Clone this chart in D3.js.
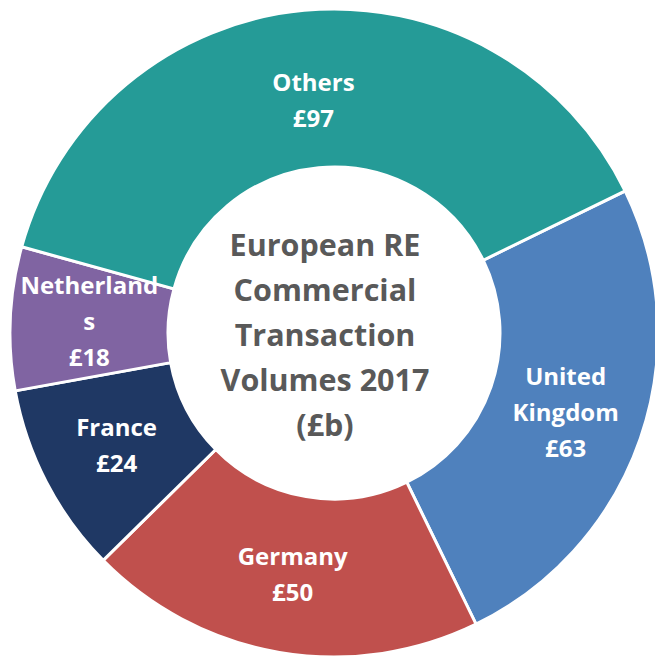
<!DOCTYPE html>
<html>
<head>
<meta charset="utf-8">
<script src="https://cdn.jsdelivr.net/npm/d3@7"></script>
<style>
  html, body { margin: 0; padding: 0; background: #fff; }
  svg { display: block; }
</style>
</head>
<body>
<svg id="chart" width="655" height="656"></svg>
<script>
// data
const categories = ["United Kingdom", "Germany", "France", "Netherlands", "Others"];
const volumes = [63, 50, 24, 18, 97];
const labelLines = [["United", "Kingdom"], ["Germany"], ["France"], ["Netherland", "s"], ["Others"]];
const colors = ["#4F81BD", "#C0504D", "#1F3864", "#8064A2", "#259B97"];
const titleLines = ["European RE", "Commercial", "Transaction", "Volumes 2017", "(£b)"];

const width = 655, height = 656;
const cx = 334, cy = 333;
const outerR = 324, innerR = 166;
const startDeg = 64;
const fontFam = "'Open Sans', Lato, sans-serif";

const svg = d3.select("#chart");
const g = svg.append("g").attr("transform", `translate(${cx},${cy})`);

const pie = d3.pie().sort(null).value(d => d.v)
  .startAngle(startDeg * Math.PI / 180)
  .endAngle((startDeg + 360) * Math.PI / 180);

const data = categories.map((c, i) => ({ c, v: volumes[i], lines: labelLines[i], color: colors[i] }));
const arcs = pie(data);

const arc = d3.arc().innerRadius(innerR).outerRadius(outerR);
const labelArc = d3.arc().innerRadius((innerR + outerR) / 2).outerRadius((innerR + outerR) / 2);

g.selectAll("path.slice")
  .data(arcs)
  .join("path")
  .attr("class", "slice")
  .attr("d", arc)
  .attr("fill", d => d.data.color)
  .attr("stroke", "#fff")
  .attr("stroke-width", 3);

// excel nudges the big slice label a bit down
const nudge = { "Others": [2, 12] };

const lineH = 36;
g.selectAll("text.lbl")
  .data(arcs)
  .join("text")
  .attr("class", "lbl")
  .attr("font-family", fontFam)
  .attr("font-weight", "bold")
  .attr("font-size", 24)
  .attr("fill", "#fff")
  .attr("text-anchor", "middle")
  .each(function (d) {
    let [x, y] = labelArc.centroid(d);
    const n = nudge[d.data.c] || [0, 0];
    x += n[0]; y += n[1];
    const lines = d.data.lines.concat(["£" + d.data.v]);
    const y0 = y - (lines.length - 1) * lineH / 2;
    const t = d3.select(this);
    lines.forEach((l, i) => {
      t.append("tspan")
        .attr("x", x)
        .attr("y", y0 + i * lineH)
        .attr("dy", "0.35em")
        .text(l);
    });
  });

const titleH = 45;
const title = g.append("text")
  .attr("font-family", fontFam)
  .attr("font-weight", "bold")
  .attr("font-size", 30.5)
  .attr("fill", "#595959")
  .attr("text-anchor", "middle");
titleLines.forEach((l, i) => {
  title.append("tspan")
    .attr("x", -9)
    .attr("y", -88 + i * titleH)
    .attr("dy", "0.35em")
    .text(l);
});
</script>
</body>
</html>
